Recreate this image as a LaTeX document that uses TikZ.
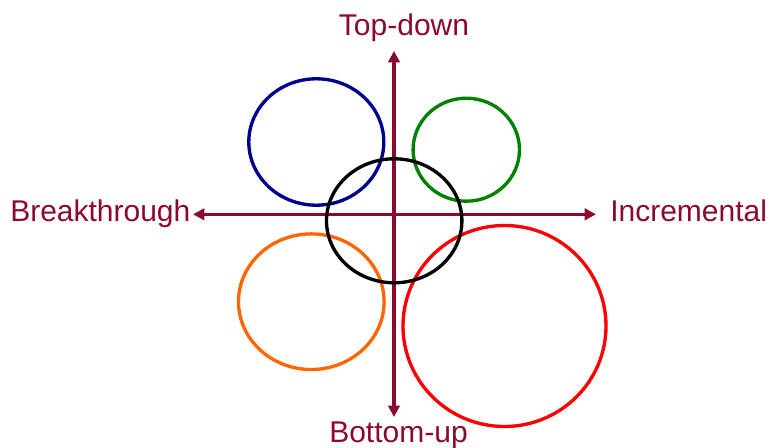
\documentclass[tikz,border=0pt]{standalone}
\usepackage{fontspec}
\setmainfont{Liberation Sans}
\usetikzlibrary{arrows.meta}
\definecolor{axisred}{HTML}{8B0A2C}
\definecolor{circblue}{HTML}{000090}
\definecolor{circgreen}{HTML}{008000}
\definecolor{circorange}{HTML}{FF6600}
\definecolor{circred}{HTML}{FF0000}
\tikzset{
  axis/.style={{Triangle[length=8.5pt,width=8.5pt]}-{Triangle[length=8.5pt,width=8.5pt]}, line width=2.6pt, draw=axisred},
  axislabel/.style={font=\fontsize{22.5}{27}\selectfont, text=axisred, inner sep=0pt},
  ring/.style={line width=2.5pt}
}

\begin{document}
\begin{tikzpicture}[x=0.75pt,y=-0.75pt]
\useasboundingbox (0,0) rectangle (771,448);
% axis ends
\coordinate (top) at (394,51);
\coordinate (bottom) at (394,417);
\coordinate (left) at (193,214.3);
\coordinate (right) at (596,214.3);
\node[axislabel, anchor=base] (topdown) at (404,36) {Top-down};
\node[axislabel, anchor=base] (bottomup) at (398.5,443) {Bottom-up};
\node[axislabel, anchor=base west] (breakthrough) at (10,222) {Breakthrough};
\node[axislabel, anchor=base west] (incremental) at (610,222) {Incremental};
\draw[axis] (bottom) -- (top);
\draw[axis] (left) -- (right);
% circles
\draw[ring, circblue] (316.3,142) ellipse [x radius=67.5, y radius=63.2];
\draw[ring, circgreen] (466.3,149.7) ellipse [x radius=53.2, y radius=51.5];
\draw[ring, circorange] (311.3,301.7) ellipse [x radius=72.8, y radius=67.8];
\draw[ring, circred] (504.5,326) ellipse [x radius=101.5, y radius=100.5];
\draw[ring, black] (394.2,220.8) ellipse [x radius=67.7, y radius=62];
\end{tikzpicture}
\end{document}
